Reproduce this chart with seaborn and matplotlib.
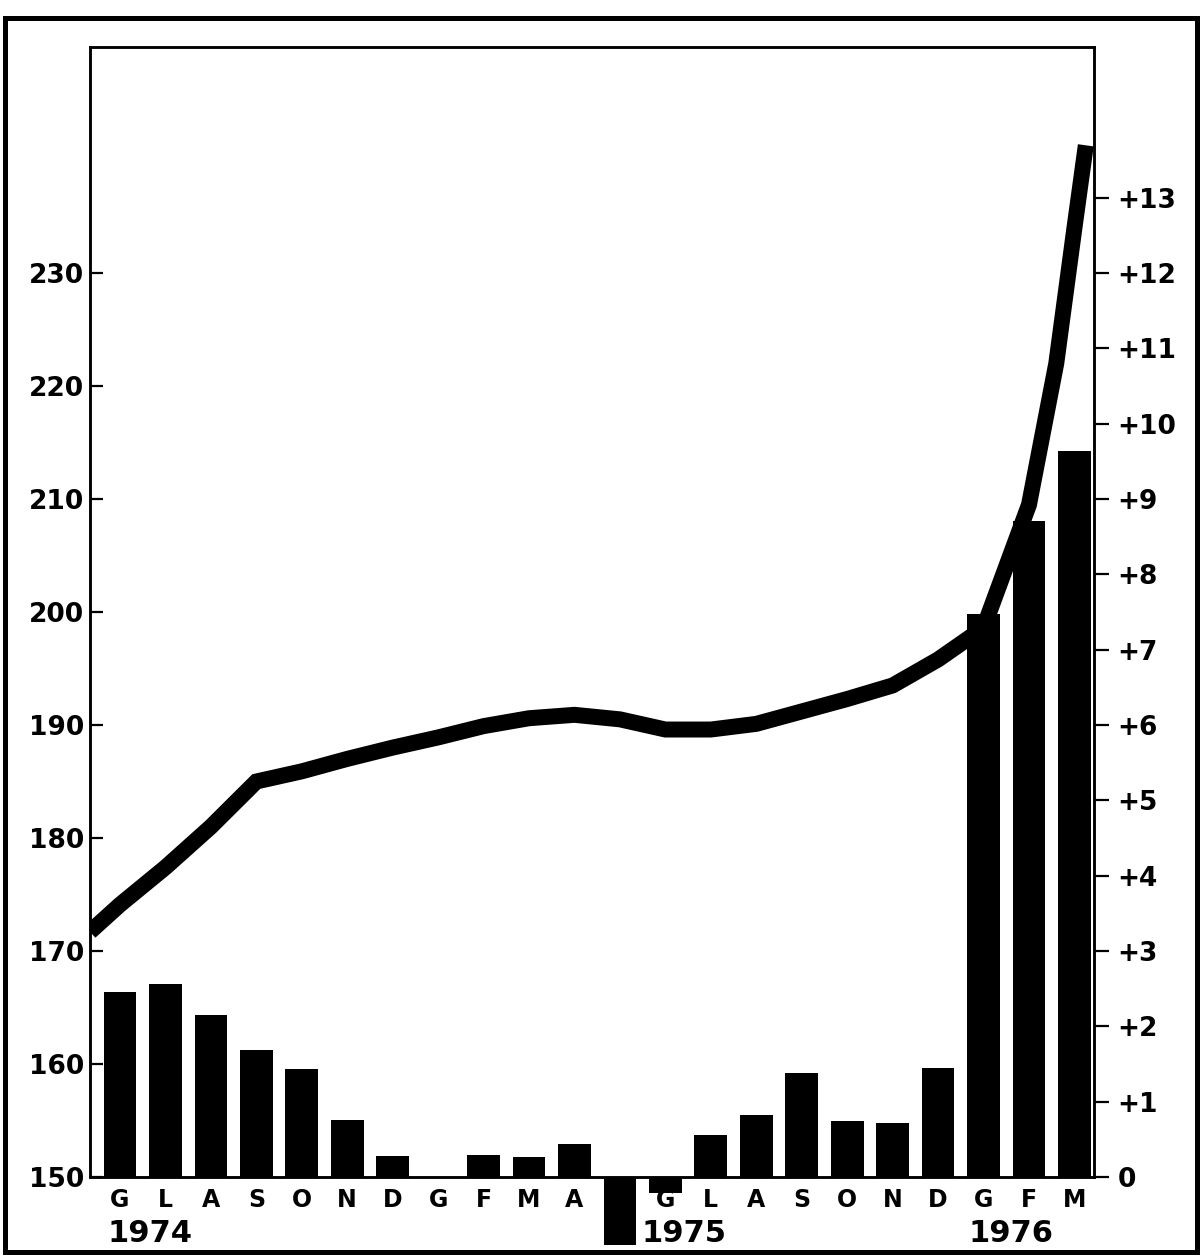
import numpy as np
import pandas as pd
import seaborn as sns
import matplotlib
matplotlib.use("Agg")
import matplotlib.pyplot as plt
from matplotlib.patches import Rectangle

sns.set_style("white")
plt.rcParams['font.family'] = ['DejaVu Sans']
plt.rcParams['font.weight'] = 'bold'
plt.rcParams['text.color'] = 'black'
plt.rcParams['xtick.color'] = 'black'
plt.rcParams['ytick.color'] = 'black'

# monthly labels (Italian initials), June 1974 .. March 1976
months = ["G", "L", "A", "S", "O", "N", "D",
          "G", "F", "M", "A", "", "G", "L", "A", "S", "O", "N", "D",
          "G", "F", "M"]
# monthly change (right axis)
bar_values = [2.45, 2.56, 2.15, 1.68, 1.43, 0.76, 0.28,
              0.0, 0.29, 0.27, 0.44, -0.90, -0.21, 0.56, 0.82, 1.38, 0.74, 0.72, 1.45,
              7.48, 8.71, 9.64]
# index level (left axis), positions in month units
line_x = [-0.66, 0, 1, 2, 3, 4, 5, 6, 7, 8, 9, 10, 11, 12, 13, 14, 15, 16, 17, 18, 19, 20, 20.6, 21, 21.25]
line_y = [171.7, 174.1, 177.4, 181.0, 185.0, 185.9, 187.0, 188.0, 188.9, 189.9, 190.6, 190.9,
          190.5, 189.6, 189.6, 190.1, 191.2, 192.3, 193.5, 195.8, 198.6, 209.5, 222.0, 234.0, 241.3]
years = ["1974", "1975", "1976"]
year_pos = [0.66, 12.4, 19.6]

left_ticks = [150, 160, 170, 180, 190, 200, 210, 220, 230]
right_ticks = list(range(0, 14))
right_labels = ["0"] + ["+%d" % v for v in right_ticks[1:]]

bars = pd.DataFrame({"pos": np.arange(len(bar_values)), "value": bar_values})
line = pd.DataFrame({"x": line_x, "y": line_y})

fig = plt.figure(figsize=(12.01, 12.59), dpi=100)
ax = fig.add_axes([90 / 1201, 1 - 1177 / 1259, (1094 - 90) / 1201, (1177 - 47) / 1259])
ax2 = ax.twinx()

sns.lineplot(data=line, x="x", y="y", ax=ax, color="black", linewidth=11.5, sort=False,
             solid_capstyle="butt", solid_joinstyle="miter")
sns.barplot(data=bars, x="pos", y="value", ax=ax2, native_scale=True, color="black",
            width=0.72, saturation=1, linewidth=0)
for p in ax2.patches:
    p.set_clip_on(False)

ax.set_xlim(-0.66, 21.43)
ax.set_ylim(150, 250)
ax2.set_ylim(0, 15)

ax.set_yticks(left_ticks)
ax.set_yticklabels([str(v) for v in left_ticks], fontsize=19, fontweight="bold")
ax.tick_params(axis="y", direction="in", length=9, width=1.6, pad=4)
ax2.set_yticks(right_ticks)
ax2.set_yticklabels(right_labels, fontsize=19, fontweight="bold")
ax2.tick_params(axis="y", direction="out", length=11, width=1.6, pad=6)

ax.set_xticks(np.arange(len(months)))
ax.set_xticklabels(months, fontsize=17, fontweight="bold")
ax.tick_params(axis="x", length=0, pad=8)

for yr, xp in zip(years, year_pos):
    ax.text(xp, -0.05, yr, transform=ax.get_xaxis_transform(), ha="center", va="center",
            fontsize=22, fontweight="bold")

ax.set_xlabel("")
ax.set_ylabel("")
ax2.set_xlabel("")
ax2.set_ylabel("")
for a in (ax, ax2):
    for s in a.spines.values():
        s.set_linewidth(1.8)
        s.set_color("black")

# outer frame
fig.add_artist(Rectangle((5 / 1201, 1 - 1252 / 1259), 1192 / 1201, (1252 - 18) / 1259,
                         transform=fig.transFigure, fill=False, edgecolor="black", linewidth=3.6))

fig.savefig("out.png", dpi=100)
